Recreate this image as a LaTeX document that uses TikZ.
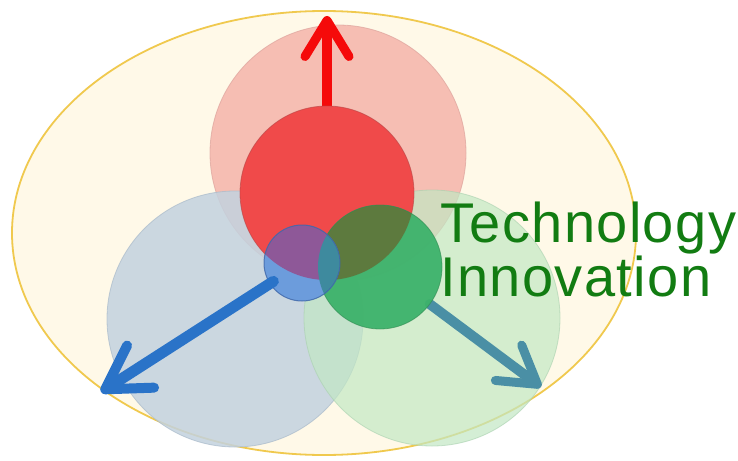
\documentclass[tikz,border=0pt]{standalone}
\usepackage{fontspec}
\setmainfont{Liberation Sans}
\newfontfamily\labelfont[LetterSpace=2.5]{Liberation Sans}
\usetikzlibrary{arrows.meta,shapes.geometric}
\definecolor{creamfill}{HTML}{FFF9E8}
\definecolor{goldline}{HTML}{F0C94E}
\definecolor{pinkbig}{HTML}{F6B8AE}
\definecolor{pinkedge}{HTML}{DDA39C}
\definecolor{bluebig}{HTML}{C3D2DF}
\definecolor{blueedge}{HTML}{A9BACA}
\definecolor{greenbig}{HTML}{C2E8C4}
\definecolor{greenedge}{HTML}{A8D0AE}
\definecolor{redmid}{HTML}{F04A4A}
\definecolor{rededge}{HTML}{B84545}
\definecolor{greenmid}{HTML}{3DB26B}
\definecolor{greenmidedge}{HTML}{2F8A50}
\definecolor{olive}{HTML}{5D7A3E}
\definecolor{smallblue}{HTML}{6C9CDC}
\definecolor{smalledge}{HTML}{3E66A8}
\definecolor{purple1}{HTML}{8E5898}
\definecolor{teal1}{HTML}{3E8A9E}
\definecolor{arrred}{HTML}{F50A0A}
\definecolor{arrblue}{HTML}{2A73C8}
\definecolor{arrteal}{HTML}{4A8FA5}
\definecolor{textgreen}{HTML}{127C12}
\begin{document}
\begin{tikzpicture}[x=1pt,y=-1pt,
  disc/.style={circle,inner sep=0pt,outer sep=0pt},
  fatarrow/.style={line width=10pt,line cap=round,
    -{Straight Barb[length=36pt,width=44pt,line width=9pt,round]}},
  label/.style={text=textgreen,font=\labelfont\fontsize{56pt}{56pt}\selectfont,inner sep=0pt,anchor=base west}]
\useasboundingbox (0,0) rectangle (738,460);
\fill[white] (0,0) rectangle (738,460);
% outer ellipse
\node[ellipse,draw=goldline,fill=creamfill,line width=1.8pt,minimum width=624pt,minimum height=444pt,inner sep=0pt] (outer) at (324,233) {};
% big circles
\node[disc,minimum size=256pt,fill=pinkbig,fill opacity=0.9,draw=pinkedge,draw opacity=0.7,line width=0.8pt] (pbig) at (338,153) {};
\node[disc,minimum size=256pt,fill=bluebig,fill opacity=0.85,draw=blueedge,draw opacity=0.7,line width=0.8pt] (bbig) at (235,319) {};
\node[disc,minimum size=256pt,fill=greenbig,fill opacity=0.7,draw=greenedge,draw opacity=0.6,line width=0.8pt] (gbig) at (432,318) {};
% red arrow
\coordinate (rtip) at (327,16);
\node[disc,minimum size=174pt] (rmid) at (327,193) {};
\draw[fatarrow,draw=arrred] (rmid.north) -- (rtip);
% red medium circle
\node[disc,minimum size=174pt,fill=redmid,draw=rededge,draw opacity=0.6,line width=0.8pt] at (327,193) {};
% teal arrow
\coordinate (ttip) at (541,387);
\node[disc,minimum size=124pt] (gmid) at (380,267) {};
\draw[fatarrow,draw=arrteal] (gmid) -- (ttip);
% green medium circle
\node[disc,minimum size=124pt,fill=greenmid,fill opacity=0.95] at (380,267) {};
\begin{scope}
  \clip (327,193) circle[radius=87];
  \fill[olive] (380,267) circle[radius=62];
\end{scope}
\node[disc,minimum size=124pt,draw=greenmidedge,draw opacity=0.6,line width=0.8pt] at (380,267) {};
% small circle
\node[disc,minimum size=76pt,fill=smallblue] (small) at (302,263) {};
\begin{scope}
  \clip (327,193) circle[radius=87];
  \fill[purple1] (302,263) circle[radius=38];
\end{scope}
\begin{scope}
  \clip (380,267) circle[radius=62];
  \fill[teal1] (302,263) circle[radius=38];
\end{scope}
\node[disc,minimum size=76pt,draw=smalledge,draw opacity=0.8,line width=1pt] at (302,263) {};
% blue arrow
\coordinate (btip) at (101,392);
\draw[fatarrow,draw=arrblue,line width=11pt,shorten <=34pt,
  -{Straight Barb[length=42pt,width=50pt,line width=10pt,round]}] (small.center) -- (btip);
% text
\node[label] (t1) at (440,242) {Technology};
\node[label] (t2) at (440,296) {Innovation};
\end{tikzpicture}
\end{document}
